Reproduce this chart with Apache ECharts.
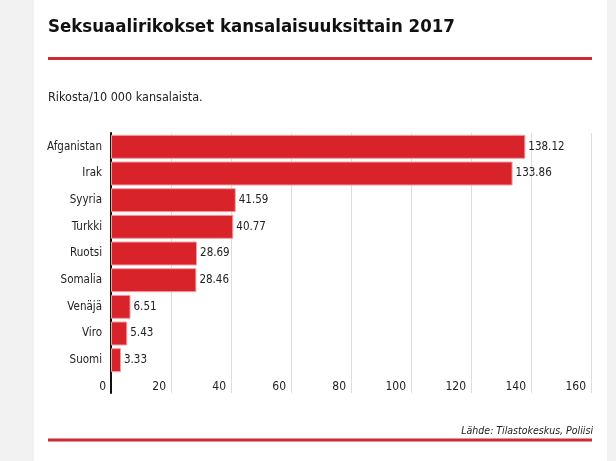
<!DOCTYPE html>
<html>
<head>
<meta charset="utf-8">
<script src="https://cdn.jsdelivr.net/npm/echarts@6/dist/echarts.min.js"></script>
<style>
html,body{margin:0;padding:0;background:#f2f2f2;}
#c{width:616px;height:461px;}
</style>
</head>
<body>
<div id="c"></div>
<script>
var categories = ['Afganistan','Irak','Syyria','Turkki','Ruotsi','Somalia','Venäjä','Viro','Suomi'];
var values = [138.12,133.86,41.59,40.77,28.69,28.46,6.51,5.43,3.33];
var xTicks = {min:0, max:160, interval:20};
var titleText = 'Seksuaalirikokset kansalaisuuksittain 2017';
var subtitleText = 'Rikosta/10 000 kansalaista.';
var sourceText = 'Lähde: Tilastokeskus, Poliisi';

var FF = "'Liberation Sans Narrow','DejaVu Sans Condensed','Open Sans',sans-serif";
var chart = echarts.init(document.getElementById('c'), null, {renderer:'canvas'});
var RED = '#cc2b36';
chart.setOption({
  backgroundColor:'#f2f2f2',
  animation:false,
  textStyle:{fontFamily:FF},
  graphic:[
    {type:'rect', z:-10, shape:{x:34,y:0,width:573,height:461}, style:{fill:'#ffffff'}},
    {type:'text', x:48, y:37, style:{text:titleText, font:'bold 18.5px '+FF, fill:'#111', verticalAlign:'bottom'}},
    {type:'rect', shape:{x:48,y:57,width:544,height:3}, style:{fill:RED}},
    {type:'text', x:48, y:97.5, style:{text:subtitleText, font:'12.5px '+FF, fill:'#222', verticalAlign:'middle'}},
    {type:'text', x:593, y:431, style:{text:sourceText, font:'italic 10.5px '+FF, fill:'#222', align:'right', verticalAlign:'middle'}},
    {type:'rect', shape:{x:48,y:438.5,width:544,height:3}, style:{fill:RED}}
  ],
  grid:[
    {left:111, right:25, top:133.5, bottom:87.5, containLabel:false},
    {left:111, right:25, top:133, bottom:68, containLabel:false}
  ],
  xAxis:[
    {gridIndex:0, type:'value', min:xTicks.min, max:xTicks.max, interval:xTicks.interval,
     axisLabel:{show:false}, splitLine:{show:false}, axisLine:{show:false}, axisTick:{show:false}},
    {gridIndex:1, type:'value', min:xTicks.min, max:xTicks.max, interval:xTicks.interval,
     axisLine:{show:false}, axisTick:{show:false},
     splitLine:{show:true, lineStyle:{color:'#dddddd', width:1}},
     axisLabel:{inside:true, margin:6, align:'right', verticalAlign:'middle', padding:[0,5,0,0],
       color:'#222', fontSize:12, fontFamily:FF}}
  ],
  yAxis:[
    {gridIndex:0, type:'category', data:categories, inverse:true,
     axisLine:{show:false}, axisTick:{show:false},
     axisLabel:{color:'#222', fontSize:11.5, margin:9, fontFamily:FF}},
    {gridIndex:1, type:'value', min:0, max:1,
     axisLine:{show:true, lineStyle:{color:'#111', width:2}}, axisTick:{show:false},
     axisLabel:{show:false}, splitLine:{show:false}}
  ],
  series:[
    {type:'bar', xAxisIndex:0, yAxisIndex:0, data:values, barCategoryGap:'10%', z:5,
     itemStyle:{color:'#d9232a', borderColor:'#f0a0a3', borderWidth:1},
     label:{show:true, position:'right', distance:3, color:'#222', fontSize:11.5, fontFamily:FF,
       formatter:function(p){return p.value.toFixed(2);}}}
  ]
});
</script>
</body>
</html>
